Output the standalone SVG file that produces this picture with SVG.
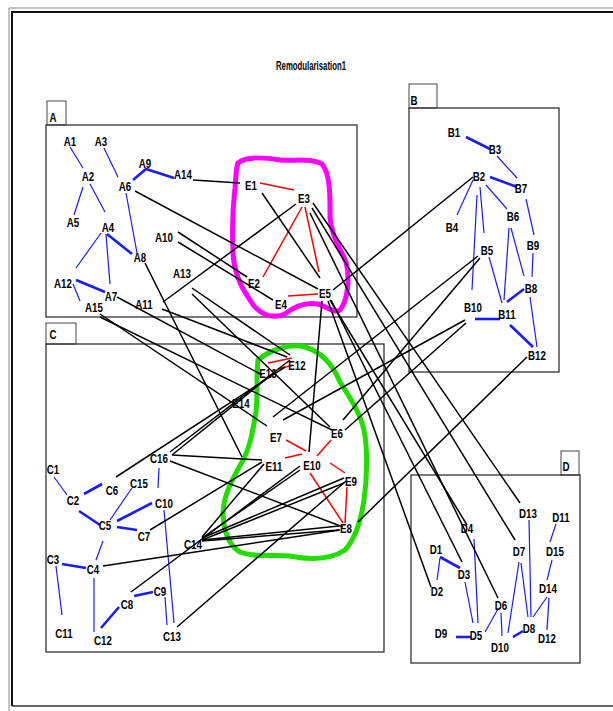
<svg xmlns="http://www.w3.org/2000/svg" width="613" height="711" viewBox="0 0 613 711">
<style>
.lbl{font-family:"Liberation Sans",Arial,sans-serif;font-weight:bold;font-size:13px;fill:#000;text-anchor:middle}
.box{fill:none;stroke:#333;stroke-width:1.3}
.tab{fill:#fff;stroke:#444;stroke-width:1}
.b{stroke:#1a1aff;stroke-width:1.2;fill:none}
.bt{stroke:#1a1aff;stroke-width:2.6;fill:none}
.k{stroke:#000;stroke-width:1.5;fill:none}
.r{stroke:#f00;stroke-width:1.5;fill:none}
.blob{fill:none;stroke-width:5;stroke-linejoin:round}
</style>
<rect width="613" height="711" fill="#fff"/>
<g id="frame">
<path d="M9,711 V8 H613" fill="none" stroke="#888" stroke-width="1"/>
<path d="M12,706 V12 H613" fill="none" stroke="#111" stroke-width="2"/>
<line x1="12" y1="706" x2="613" y2="706" stroke="#333" stroke-width="1.5"/>
<text x="311" y="70" class="lbl" font-size="12" textLength="70" lengthAdjust="spacingAndGlyphs">Remodularisation1</text>
</g>
<g id="boxes">
<rect class="tab" x="47" y="101" width="19" height="24"/><text class="lbl" transform="translate(53,122) scale(.75,1)">A</text>
<rect class="box" x="46" y="125" width="311" height="192"/>
<rect class="tab" x="409" y="84" width="28" height="24"/><text class="lbl" transform="translate(414,105) scale(.75,1)">B</text>
<rect class="box" x="409" y="108" width="150" height="264"/>
<rect class="tab" x="46" y="323" width="30" height="21"/><text class="lbl" transform="translate(53,339) scale(.75,1)">C</text>
<rect class="box" x="46" y="344" width="338" height="308"/>
<rect class="tab" x="561" y="451" width="18" height="24"/><text class="lbl" transform="translate(566,471) scale(.75,1)">D</text>
<rect class="box" x="411" y="475" width="169" height="188"/>
</g>
<g id="blobs">
<path class="blob" stroke="#ff00ff" d="M238,163 C245,157 262,157 280,160 C295,161 312,158 322,164 C331,175 330,200 330,217 C331,235 340,248 346,262 C350,278 348,300 340,310 C334,314 326,306 318,304 C305,302 295,306 285,314 C272,320 258,314 250,300 C240,286 233,270 233,250 C232,230 233,205 235,188 C236,176 236,168 238,163 Z"/>
<path class="blob" stroke="#22dd00" d="M258,360 C270,350 290,343 305,347 C322,352 333,365 340,382 C350,398 360,412 364,430 C368,450 367,480 364,500 C361,520 356,538 345,550 C330,560 310,560 290,556 C272,554 255,558 240,552 C228,545 224,530 223,515 C223,495 233,478 242,462 C250,448 253,430 256,412 C258,395 256,375 258,360 Z"/>
</g>
<g id="connectors">
<line class="b" x1="70" y1="147" x2="83" y2="168"/>
<line class="b" x1="83" y1="187" x2="74" y2="215"/>
<line class="b" x1="90" y1="184" x2="105" y2="212"/>
<line class="b" x1="104" y1="148" x2="118" y2="177"/>
<polyline class="bt" points="133,180 146,169 174,178"/>
<line class="b" x1="126" y1="193" x2="137" y2="253"/>
<line class="b" x1="101" y1="233" x2="76" y2="268"/>
<line class="b" x1="106" y1="234" x2="110" y2="284"/>
<line class="bt" x1="107" y1="234" x2="132" y2="254"/>
<line class="bt" x1="76" y1="280" x2="105" y2="292"/>
<line class="b" x1="73" y1="284" x2="80" y2="301"/>
<line class="bt" x1="466" y1="137" x2="490" y2="149"/>
<line class="b" x1="497" y1="156" x2="517" y2="178"/>
<line class="bt" x1="490" y1="177" x2="517" y2="187"/>
<line class="b" x1="473" y1="180" x2="457" y2="215"/>
<line class="b" x1="477" y1="195" x2="472" y2="290"/>
<line class="b" x1="480" y1="187" x2="484" y2="233"/>
<line class="b" x1="486" y1="185" x2="507" y2="209"/>
<line class="b" x1="526" y1="199" x2="534" y2="235"/>
<line class="b" x1="511" y1="228" x2="524" y2="276"/>
<line class="b" x1="509" y1="228" x2="504" y2="300"/>
<line class="b" x1="533" y1="253" x2="532" y2="277"/>
<line class="b" x1="489" y1="257" x2="502" y2="303"/>
<line class="bt" x1="524" y1="289" x2="507" y2="302"/>
<line class="bt" x1="475" y1="319" x2="500" y2="319"/>
<line class="bt" x1="510" y1="325" x2="533" y2="347"/>
<line class="b" x1="530" y1="297" x2="537" y2="347"/>
<line class="b" x1="54" y1="477" x2="67" y2="495"/>
<line class="bt" x1="84" y1="494" x2="102" y2="484"/>
<line class="bt" x1="79" y1="511" x2="100" y2="525"/>
<line class="b" x1="110" y1="520" x2="132" y2="488"/>
<line class="bt" x1="117" y1="521" x2="152" y2="503"/>
<line class="bt" x1="117" y1="527" x2="137" y2="530"/>
<line class="b" x1="103" y1="541" x2="96" y2="560"/>
<line class="bt" x1="62" y1="564" x2="86" y2="568"/>
<line class="b" x1="56" y1="566" x2="62" y2="615"/>
<line class="b" x1="94" y1="578" x2="94" y2="632"/>
<line class="bt" x1="101" y1="628" x2="119" y2="607"/>
<line class="bt" x1="134" y1="596" x2="153" y2="592"/>
<line class="b" x1="165" y1="597" x2="167" y2="625"/>
<line class="b" x1="164" y1="510" x2="174" y2="623"/>
<line class="b" x1="159" y1="468" x2="158" y2="488"/>
<line class="bt" x1="440" y1="557" x2="460" y2="568"/>
<line class="b" x1="440" y1="558" x2="437" y2="580"/>
<line class="b" x1="465" y1="582" x2="473" y2="623"/>
<line class="b" x1="474" y1="539" x2="478" y2="623"/>
<line class="bt" x1="456" y1="637" x2="471" y2="637"/>
<line class="b" x1="485" y1="632" x2="498" y2="609"/>
<line class="b" x1="501" y1="613" x2="502" y2="636"/>
<line class="b" x1="508" y1="633" x2="519" y2="562"/>
<line class="b" x1="521" y1="563" x2="528" y2="617"/>
<line class="b" x1="529" y1="520" x2="531" y2="617"/>
<line class="bt" x1="513" y1="637" x2="523" y2="631"/>
<line class="b" x1="533" y1="617" x2="547" y2="597"/>
<line class="b" x1="549" y1="598" x2="547" y2="630"/>
<line class="b" x1="547" y1="580" x2="552" y2="560"/>
<line class="b" x1="550" y1="542" x2="556" y2="524"/>
<line class="r" x1="260" y1="183" x2="294" y2="190"/>
<line class="r" x1="302" y1="207" x2="263" y2="277"/>
<line class="r" x1="305" y1="207" x2="319" y2="272"/>
<line class="r" x1="288" y1="296" x2="318" y2="294"/>
<line class="r" x1="268" y1="363" x2="292" y2="358"/>
<line class="r" x1="278" y1="369" x2="293" y2="365"/>
<line class="r" x1="286" y1="440" x2="306" y2="451"/>
<line class="r" x1="302" y1="454" x2="285" y2="458"/>
<line class="r" x1="317" y1="456" x2="331" y2="440"/>
<line class="r" x1="330" y1="463" x2="345" y2="473"/>
<line class="r" x1="310" y1="473" x2="343" y2="523"/>
<line class="r" x1="347" y1="487" x2="345" y2="523"/>
<line class="k" x1="193" y1="180" x2="240" y2="183"/>
<line class="k" x1="135" y1="191" x2="318" y2="289"/>
<line class="k" x1="178" y1="232" x2="247" y2="277"/>
<line class="k" x1="178" y1="242" x2="273" y2="300"/>
<line class="k" x1="163" y1="302" x2="296" y2="204"/>
<line class="k" x1="162" y1="309" x2="287" y2="357"/>
<line class="k" x1="192" y1="288" x2="290" y2="355"/>
<line class="k" x1="192" y1="294" x2="330" y2="427"/>
<line class="k" x1="145" y1="263" x2="242" y2="457" stroke-width="1.1"/>
<line class="k" x1="117" y1="297" x2="262" y2="375"/>
<line class="k" x1="100" y1="314" x2="267" y2="426"/>
<line class="k" x1="100" y1="317" x2="332" y2="430"/>
<line class="k" x1="262" y1="193" x2="320" y2="278" stroke-width="1.1"/>
<line class="k" x1="333" y1="290" x2="473" y2="177"/>
<line class="k" x1="322" y1="301" x2="309" y2="452" stroke-width="1"/>
<line class="k" x1="313" y1="203" x2="520" y2="503"/>
<line class="k" x1="312" y1="208" x2="515" y2="540"/>
<line class="k" x1="310" y1="213" x2="498" y2="598"/>
<line class="k" x1="330" y1="300" x2="467" y2="525"/>
<line class="k" x1="331" y1="300" x2="462" y2="562"/>
<line class="k" x1="328" y1="301" x2="431" y2="587"/>
<line class="k" x1="478" y1="256" x2="273" y2="417"/>
<line class="k" x1="480" y1="258" x2="343" y2="420"/>
<line class="k" x1="465" y1="320" x2="283" y2="420"/>
<line class="k" x1="466" y1="323" x2="345" y2="430"/>
<line class="k" x1="527" y1="357" x2="358" y2="522"/>
<line class="k" x1="172" y1="455" x2="262" y2="460"/>
<line class="k" x1="170" y1="461" x2="343" y2="527"/>
<line class="k" x1="170" y1="452" x2="290" y2="360"/>
<line class="k" x1="172" y1="455" x2="265" y2="380"/>
<line class="k" x1="116" y1="477" x2="285" y2="367"/>
<line class="k" x1="150" y1="530" x2="262" y2="462"/>
<line class="k" x1="103" y1="566" x2="340" y2="530"/>
<line class="k" x1="131" y1="592" x2="300" y2="466"/>
<line class="k" x1="177" y1="627" x2="346" y2="481"/>
<line class="k" x1="202" y1="537" x2="264" y2="464"/>
<line class="k" x1="202" y1="538" x2="300" y2="470"/>
<line class="k" x1="202" y1="538" x2="344" y2="478"/>
<line class="k" x1="202" y1="540" x2="344" y2="483"/>
<line class="k" x1="202" y1="540" x2="339" y2="526"/>
<line class="k" x1="202" y1="541" x2="339" y2="530"/>
</g>
<g id="nodes">
<g id="A1"><text class="lbl" transform="translate(70,146) scale(.75,1)">A1</text></g>
<g id="A2"><text class="lbl" transform="translate(88,181) scale(.75,1)">A2</text></g>
<g id="A3"><text class="lbl" transform="translate(101,146) scale(.75,1)">A3</text></g>
<g id="A4"><text class="lbl" transform="translate(108,232) scale(.75,1)">A4</text></g>
<g id="A5"><text class="lbl" transform="translate(73,227) scale(.75,1)">A5</text></g>
<g id="A6"><text class="lbl" transform="translate(125,191) scale(.75,1)">A6</text></g>
<g id="A7"><text class="lbl" transform="translate(111,301) scale(.75,1)">A7</text></g>
<g id="A8"><text class="lbl" transform="translate(140,262) scale(.75,1)">A8</text></g>
<g id="A9"><text class="lbl" transform="translate(145,168) scale(.75,1)">A9</text></g>
<g id="A10"><text class="lbl" transform="translate(164,242) scale(.75,1)">A10</text></g>
<g id="A11"><text class="lbl" transform="translate(144,309) scale(.75,1)">A11</text></g>
<g id="A12"><text class="lbl" transform="translate(63,288) scale(.75,1)">A12</text></g>
<g id="A13"><text class="lbl" transform="translate(182,278) scale(.75,1)">A13</text></g>
<g id="A14"><text class="lbl" transform="translate(183,179) scale(.75,1)">A14</text></g>
<g id="A15"><text class="lbl" transform="translate(94,312) scale(.75,1)">A15</text></g>
<g id="B1"><text class="lbl" transform="translate(454,137) scale(.75,1)">B1</text></g>
<g id="B2"><text class="lbl" transform="translate(479,181) scale(.75,1)">B2</text></g>
<g id="B3"><text class="lbl" transform="translate(495,154) scale(.75,1)">B3</text></g>
<g id="B4"><text class="lbl" transform="translate(452,232) scale(.75,1)">B4</text></g>
<g id="B5"><text class="lbl" transform="translate(487,255) scale(.75,1)">B5</text></g>
<g id="B6"><text class="lbl" transform="translate(513,221) scale(.75,1)">B6</text></g>
<g id="B7"><text class="lbl" transform="translate(521,193) scale(.75,1)">B7</text></g>
<g id="B8"><text class="lbl" transform="translate(531,293) scale(.75,1)">B8</text></g>
<g id="B9"><text class="lbl" transform="translate(533,250) scale(.75,1)">B9</text></g>
<g id="B10"><text class="lbl" transform="translate(473,312) scale(.75,1)">B10</text></g>
<g id="B11"><text class="lbl" transform="translate(507,319) scale(.75,1)">B11</text></g>
<g id="B12"><text class="lbl" transform="translate(537,360) scale(.75,1)">B12</text></g>
<g id="C1"><text class="lbl" transform="translate(53,474) scale(.75,1)">C1</text></g>
<g id="C2"><text class="lbl" transform="translate(73,505) scale(.75,1)">C2</text></g>
<g id="C3"><text class="lbl" transform="translate(53,564) scale(.75,1)">C3</text></g>
<g id="C4"><text class="lbl" transform="translate(93,574) scale(.75,1)">C4</text></g>
<g id="C5"><text class="lbl" transform="translate(105,530) scale(.75,1)">C5</text></g>
<g id="C6"><text class="lbl" transform="translate(112,495) scale(.75,1)">C6</text></g>
<g id="C7"><text class="lbl" transform="translate(144,541) scale(.75,1)">C7</text></g>
<g id="C8"><text class="lbl" transform="translate(127,609) scale(.75,1)">C8</text></g>
<g id="C9"><text class="lbl" transform="translate(160,596) scale(.75,1)">C9</text></g>
<g id="C10"><text class="lbl" transform="translate(164,508) scale(.75,1)">C10</text></g>
<g id="C11"><text class="lbl" transform="translate(64,638) scale(.75,1)">C11</text></g>
<g id="C12"><text class="lbl" transform="translate(103,645) scale(.75,1)">C12</text></g>
<g id="C13"><text class="lbl" transform="translate(172,641) scale(.75,1)">C13</text></g>
<g id="C14"><text class="lbl" transform="translate(193,549) scale(.75,1)">C14</text></g>
<g id="C15"><text class="lbl" transform="translate(139,488) scale(.75,1)">C15</text></g>
<g id="C16"><text class="lbl" transform="translate(159,463) scale(.75,1)">C16</text></g>
<g id="D1"><text class="lbl" transform="translate(436,554) scale(.75,1)">D1</text></g>
<g id="D2"><text class="lbl" transform="translate(437,596) scale(.75,1)">D2</text></g>
<g id="D3"><text class="lbl" transform="translate(464,579) scale(.75,1)">D3</text></g>
<g id="D4"><text class="lbl" transform="translate(467,533) scale(.75,1)">D4</text></g>
<g id="D5"><text class="lbl" transform="translate(476,640) scale(.75,1)">D5</text></g>
<g id="D6"><text class="lbl" transform="translate(501,610) scale(.75,1)">D6</text></g>
<g id="D7"><text class="lbl" transform="translate(519,556) scale(.75,1)">D7</text></g>
<g id="D8"><text class="lbl" transform="translate(529,633) scale(.75,1)">D8</text></g>
<g id="D9"><text class="lbl" transform="translate(441,638) scale(.75,1)">D9</text></g>
<g id="D10"><text class="lbl" transform="translate(500,652) scale(.75,1)">D10</text></g>
<g id="D11"><text class="lbl" transform="translate(561,522) scale(.75,1)">D11</text></g>
<g id="D12"><text class="lbl" transform="translate(547,643) scale(.75,1)">D12</text></g>
<g id="D13"><text class="lbl" transform="translate(528,518) scale(.75,1)">D13</text></g>
<g id="D14"><text class="lbl" transform="translate(548,593) scale(.75,1)">D14</text></g>
<g id="D15"><text class="lbl" transform="translate(555,556) scale(.75,1)">D15</text></g>
<g id="E1"><text class="lbl" transform="translate(251,190) scale(.75,1)">E1</text></g>
<g id="E2"><text class="lbl" transform="translate(254,288) scale(.75,1)">E2</text></g>
<g id="E3"><text class="lbl" transform="translate(304,203) scale(.75,1)">E3</text></g>
<g id="E4"><text class="lbl" transform="translate(281,309) scale(.75,1)">E4</text></g>
<g id="E5"><text class="lbl" transform="translate(325,298) scale(.75,1)">E5</text></g>
<g id="E6"><text class="lbl" transform="translate(337,438) scale(.75,1)">E6</text></g>
<g id="E7"><text class="lbl" transform="translate(276,442) scale(.75,1)">E7</text></g>
<g id="E8"><text class="lbl" transform="translate(346,533) scale(.75,1)">E8</text></g>
<g id="E9"><text class="lbl" transform="translate(351,486) scale(.75,1)">E9</text></g>
<g id="E10"><text class="lbl" transform="translate(312,470) scale(.75,1)">E10</text></g>
<g id="E11"><text class="lbl" transform="translate(274,471) scale(.75,1)">E11</text></g>
<g id="E12"><text class="lbl" transform="translate(297,370) scale(.75,1)">E12</text></g>
<g id="E13"><text class="lbl" transform="translate(268,378) scale(.75,1)">E13</text></g>
<g id="E14"><text class="lbl" transform="translate(241,408) scale(.75,1)">E14</text></g>
</g>
</svg>
